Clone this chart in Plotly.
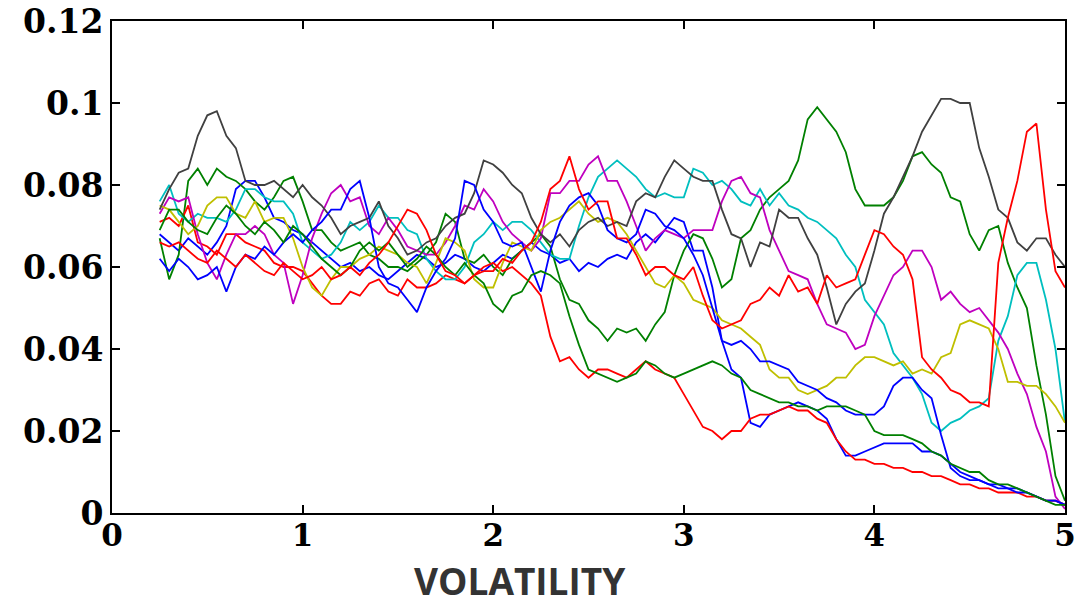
import plotly.graph_objects as go

# Sampling grid shared by every path: 0.25 to 5.00 in steps of 0.05 (96 points)
X_START = 0.25
X_STEP = 0.05

# ---- simulated paths (values per grid point, rows of ten) ----
blue_a = [
    0.068, 0.066, 0.064, 0.067, 0.065, 0.063, 0.066, 0.070, 0.079, 0.081,
    0.081, 0.077, 0.072, 0.071, 0.069, 0.068, 0.066, 0.064, 0.062, 0.060,
    0.061, 0.059, 0.060, 0.058, 0.057, 0.059, 0.061, 0.063, 0.062, 0.060,
    0.061, 0.063, 0.062, 0.060, 0.059, 0.061, 0.063, 0.062, 0.064, 0.066,
    0.064, 0.063, 0.061, 0.062, 0.059, 0.061, 0.060, 0.062, 0.063, 0.062,
    0.066, 0.068, 0.066, 0.069, 0.072, 0.071, 0.064, 0.064, 0.055, 0.042,
    0.035, 0.033, 0.022, 0.021, 0.024, 0.025, 0.026, 0.027, 0.026, 0.025,
    0.023, 0.018, 0.014, 0.014, 0.015, 0.016, 0.017, 0.017, 0.017, 0.017,
    0.015, 0.015, 0.014, 0.012, 0.010, 0.009, 0.008, 0.007, 0.007, 0.006,
    0.006, 0.005, 0.004, 0.003, 0.003, 0.002,
]

green_a = [
    0.067, 0.057, 0.063, 0.081, 0.084, 0.080, 0.084, 0.082, 0.081, 0.079,
    0.076, 0.074, 0.077, 0.081, 0.082, 0.076, 0.069, 0.069, 0.066, 0.064,
    0.065, 0.066, 0.063, 0.062, 0.060, 0.060, 0.059, 0.061, 0.063, 0.066,
    0.073, 0.071, 0.062, 0.061, 0.063, 0.060, 0.058, 0.062, 0.064, 0.066,
    0.068, 0.065, 0.057, 0.052, 0.051, 0.047, 0.045, 0.042, 0.045, 0.044,
    0.045, 0.042, 0.046, 0.049, 0.058, 0.064, 0.068, 0.067, 0.062, 0.055,
    0.057, 0.067, 0.069, 0.074, 0.077, 0.079, 0.081, 0.086, 0.096, 0.099,
    0.096, 0.093, 0.088, 0.079, 0.075, 0.075, 0.075, 0.077, 0.081, 0.087,
    0.088, 0.085, 0.083, 0.077, 0.076, 0.068, 0.064, 0.069, 0.070, 0.061,
    0.055, 0.050, 0.036, 0.024, 0.009, 0.003,
]

red_a = [
    0.071, 0.072, 0.070, 0.075, 0.066, 0.065, 0.063, 0.068, 0.068, 0.066,
    0.065, 0.064, 0.061, 0.060, 0.060, 0.059, 0.056, 0.053, 0.051, 0.051,
    0.054, 0.053, 0.056, 0.057, 0.054, 0.053, 0.057, 0.055, 0.055, 0.056,
    0.058, 0.057, 0.056, 0.058, 0.060, 0.061, 0.059, 0.060, 0.058, 0.056,
    0.053, 0.043, 0.037, 0.038, 0.035, 0.033, 0.035, 0.035, 0.034, 0.033,
    0.035, 0.037, 0.035, 0.034, 0.033, 0.029, 0.025, 0.021, 0.020, 0.018,
    0.020, 0.020, 0.023, 0.024, 0.024, 0.025, 0.026, 0.025, 0.025, 0.023,
    0.022, 0.018, 0.015, 0.013, 0.013, 0.012, 0.012, 0.011, 0.011, 0.010,
    0.010, 0.009, 0.009, 0.008, 0.007, 0.007, 0.006, 0.006, 0.005, 0.005,
    0.005, 0.004, 0.004, 0.003, 0.003, 0.002,
]

cyan = [
    0.076, 0.080, 0.073, 0.071, 0.073, 0.072, 0.072, 0.071, 0.074, 0.079,
    0.079, 0.077, 0.076, 0.076, 0.073, 0.066, 0.064, 0.062, 0.063, 0.066,
    0.071, 0.069, 0.071, 0.075, 0.072, 0.072, 0.069, 0.068, 0.062, 0.059,
    0.057, 0.057, 0.060, 0.066, 0.068, 0.071, 0.069, 0.071, 0.071, 0.069,
    0.066, 0.063, 0.062, 0.062, 0.070, 0.077, 0.082, 0.084, 0.086, 0.084,
    0.082, 0.079, 0.077, 0.078, 0.077, 0.077, 0.084, 0.083, 0.080, 0.081,
    0.079, 0.076, 0.075, 0.079, 0.075, 0.078, 0.075, 0.074, 0.072, 0.071,
    0.069, 0.067, 0.063, 0.060, 0.052, 0.049, 0.046, 0.039, 0.036, 0.033,
    0.029, 0.022, 0.020, 0.022, 0.023, 0.025, 0.026, 0.028, 0.042, 0.048,
    0.058, 0.061, 0.061, 0.052, 0.040, 0.022,
]

magenta = [
    0.073, 0.077, 0.076, 0.077, 0.068, 0.061, 0.057, 0.063, 0.068, 0.068,
    0.070, 0.068, 0.063, 0.061, 0.051, 0.058, 0.067, 0.073, 0.078, 0.080,
    0.076, 0.077, 0.070, 0.068, 0.072, 0.069, 0.065, 0.064, 0.063, 0.063,
    0.066, 0.070, 0.075, 0.074, 0.079, 0.076, 0.071, 0.068, 0.066, 0.064,
    0.067, 0.078, 0.078, 0.081, 0.081, 0.085, 0.087, 0.081, 0.081, 0.076,
    0.070, 0.064, 0.067, 0.069, 0.068, 0.067, 0.069, 0.069, 0.069, 0.076,
    0.081, 0.082, 0.078, 0.077, 0.069, 0.064, 0.059, 0.058, 0.057, 0.051,
    0.046, 0.045, 0.044, 0.040, 0.041, 0.048, 0.053, 0.058, 0.060, 0.064,
    0.064, 0.060, 0.052, 0.054, 0.051, 0.049, 0.050, 0.047, 0.044, 0.040,
    0.034, 0.029, 0.021, 0.015, 0.004, 0.001,
]

yellow = [
    0.075, 0.074, 0.071, 0.068, 0.070, 0.075, 0.077, 0.077, 0.073, 0.072,
    0.076, 0.071, 0.072, 0.072, 0.067, 0.060, 0.055, 0.053, 0.057, 0.060,
    0.060, 0.062, 0.063, 0.065, 0.064, 0.063, 0.061, 0.060, 0.056, 0.061,
    0.067, 0.066, 0.064, 0.057, 0.055, 0.055, 0.061, 0.066, 0.065, 0.064,
    0.069, 0.071, 0.072, 0.074, 0.076, 0.073, 0.071, 0.072, 0.071, 0.068,
    0.064, 0.060, 0.056, 0.055, 0.058, 0.056, 0.052, 0.051, 0.050, 0.047,
    0.046, 0.045, 0.043, 0.041, 0.035, 0.033, 0.033, 0.030, 0.029, 0.030,
    0.031, 0.033, 0.033, 0.036, 0.038, 0.038, 0.037, 0.036, 0.037, 0.034,
    0.035, 0.034, 0.038, 0.039, 0.046, 0.047, 0.046, 0.045, 0.040, 0.032,
    0.032, 0.031, 0.031, 0.029, 0.026, 0.022,
]

gray_k = [
    0.074, 0.079, 0.083, 0.084, 0.092, 0.097, 0.098, 0.092, 0.089, 0.081,
    0.080, 0.080, 0.081, 0.079, 0.077, 0.080, 0.077, 0.075, 0.072, 0.068,
    0.070, 0.071, 0.072, 0.076, 0.070, 0.067, 0.063, 0.064, 0.066, 0.067,
    0.070, 0.072, 0.073, 0.078, 0.086, 0.085, 0.083, 0.080, 0.078, 0.072,
    0.068, 0.066, 0.068, 0.065, 0.069, 0.071, 0.072, 0.070, 0.071, 0.070,
    0.076, 0.078, 0.077, 0.082, 0.086, 0.084, 0.082, 0.081, 0.081, 0.074,
    0.068, 0.067, 0.060, 0.066, 0.065, 0.074, 0.072, 0.072, 0.067, 0.063,
    0.055, 0.046, 0.051, 0.054, 0.056, 0.064, 0.073, 0.077, 0.082, 0.087,
    0.093, 0.097, 0.101, 0.101, 0.100, 0.100, 0.089, 0.082, 0.074, 0.072,
    0.066, 0.064, 0.067, 0.067, 0.063, 0.060,
]

blue_b = [
    0.062, 0.059, 0.062, 0.060, 0.057, 0.058, 0.060, 0.054, 0.060, 0.063,
    0.062, 0.065, 0.063, 0.066, 0.068, 0.066, 0.069, 0.071, 0.074, 0.074,
    0.079, 0.081, 0.072, 0.060, 0.056, 0.055, 0.052, 0.049, 0.055, 0.059,
    0.062, 0.067, 0.081, 0.080, 0.074, 0.071, 0.066, 0.065, 0.066, 0.060,
    0.054, 0.064, 0.071, 0.075, 0.077, 0.078, 0.075, 0.069, 0.067, 0.066,
    0.068, 0.074, 0.073, 0.070, 0.069, 0.067, 0.063, 0.058, 0.050, 0.042,
    0.041, 0.042, 0.040, 0.037, 0.037, 0.036, 0.035, 0.032, 0.031, 0.030,
    0.028, 0.027, 0.025, 0.024, 0.024, 0.024, 0.026, 0.031, 0.033, 0.033,
    0.030, 0.028, 0.019, 0.011, 0.009, 0.008, 0.008, 0.007, 0.006, 0.006,
    0.005, 0.005, 0.004, 0.003, 0.003, 0.002,
]

green_b = [
    0.069, 0.074, 0.074, 0.071, 0.069, 0.068, 0.072, 0.075, 0.073, 0.070,
    0.068, 0.071, 0.069, 0.066, 0.070, 0.068, 0.065, 0.062, 0.060, 0.058,
    0.060, 0.064, 0.066, 0.064, 0.066, 0.063, 0.060, 0.062, 0.065, 0.063,
    0.060, 0.058, 0.061, 0.058, 0.056, 0.051, 0.049, 0.053, 0.054, 0.058,
    0.059, 0.058, 0.056, 0.048, 0.041, 0.035, 0.034, 0.033, 0.032, 0.033,
    0.034, 0.037, 0.036, 0.034, 0.033, 0.034, 0.035, 0.036, 0.037, 0.036,
    0.034, 0.033, 0.030, 0.029, 0.028, 0.027, 0.027, 0.026, 0.026, 0.025,
    0.026, 0.026, 0.026, 0.025, 0.024, 0.020, 0.019, 0.019, 0.019, 0.018,
    0.017, 0.015, 0.014, 0.012, 0.011, 0.010, 0.010, 0.008, 0.007, 0.007,
    0.006, 0.005, 0.004, 0.003, 0.002, 0.002,
]

red_b = [
    0.066, 0.065, 0.066, 0.064, 0.062, 0.061, 0.064, 0.062, 0.060, 0.063,
    0.061, 0.059, 0.058, 0.061, 0.059, 0.057, 0.058, 0.060, 0.057, 0.058,
    0.060, 0.058, 0.061, 0.063, 0.066, 0.070, 0.074, 0.073, 0.069, 0.063,
    0.059, 0.058, 0.056, 0.058, 0.059, 0.059, 0.062, 0.061, 0.064, 0.066,
    0.071, 0.079, 0.081, 0.087, 0.079, 0.074, 0.076, 0.076, 0.067, 0.067,
    0.063, 0.058, 0.060, 0.060, 0.058, 0.057, 0.060, 0.053, 0.047, 0.045,
    0.046, 0.047, 0.051, 0.052, 0.055, 0.053, 0.058, 0.054, 0.055, 0.051,
    0.058, 0.055, 0.056, 0.057, 0.063, 0.069, 0.068, 0.065, 0.063, 0.057,
    0.038, 0.035, 0.033, 0.030, 0.029, 0.027, 0.027, 0.026, 0.061, 0.072,
    0.081, 0.093, 0.095, 0.074, 0.059, 0.055,
]

# Axis ticks
x_ticks = [0, 1, 2, 3, 4, 5]
x_tick_text = ["0", "1", "2", "3", "4", "5"]
y_ticks = [0, 0.02, 0.04, 0.06, 0.08, 0.10, 0.12]
y_tick_text = ["0", "0.02", "0.04", "0.06", "0.08", "0.1", "0.12"]
x_label = "VOLATILITY"

# Classic colour cycle: b, g, r, c, m, y, k, then repeating
series = [
    (blue_a, "#0000ff"),
    (green_a, "#008000"),
    (red_a, "#ff0000"),
    (cyan, "#00bfbf"),
    (magenta, "#bf00bf"),
    (yellow, "#bfbf00"),
    (gray_k, "#404040"),
    (blue_b, "#0000ff"),
    (green_b, "#008000"),
    (red_b, "#ff0000"),
]

fig = go.Figure()
for values, color in series:
    xs = [round(X_START + X_STEP * i, 2) for i in range(len(values))]
    fig.add_trace(go.Scatter(
        x=xs, y=values, mode="lines",
        line=dict(color=color, width=1.8),
        hoverinfo="skip", showlegend=False,
    ))

axis_common = dict(
    showgrid=False, zeroline=False, automargin=False,
    ticklabeloverflow="allow",
    showline=True, linecolor="black", linewidth=2,
    mirror="ticks", ticks="inside", ticklen=8, tickwidth=2, tickcolor="black",
)

fig.update_layout(
    width=1076, height=608,
    margin=dict(l=112, r=11, t=21, b=95),
    paper_bgcolor="white", plot_bgcolor="white",
    xaxis=dict(
        range=[0, 5], tickvals=x_ticks, ticktext=x_tick_text,
        ticklabelstandoff=-6,
        tickfont=dict(family="DejaVu Serif", size=31, color="black", weight="bold"),
        **axis_common,
    ),
    yaxis=dict(
        range=[0, 0.12], tickvals=y_ticks, ticktext=y_tick_text,
        tickfont=dict(family="DejaVu Serif", size=33, color="black", weight="bold"),
        **axis_common,
    ),
    annotations=[dict(
        text=x_label, xref="paper", yref="paper",
        x=0.428, y=-0.1931, xanchor="center", yanchor="bottom",
        showarrow=False,
        font=dict(family="Open Sans", size=37, color="#333333", weight="bold"),
    )],
)

fig.write_html("out.html", config={"displayModeBar": False})
